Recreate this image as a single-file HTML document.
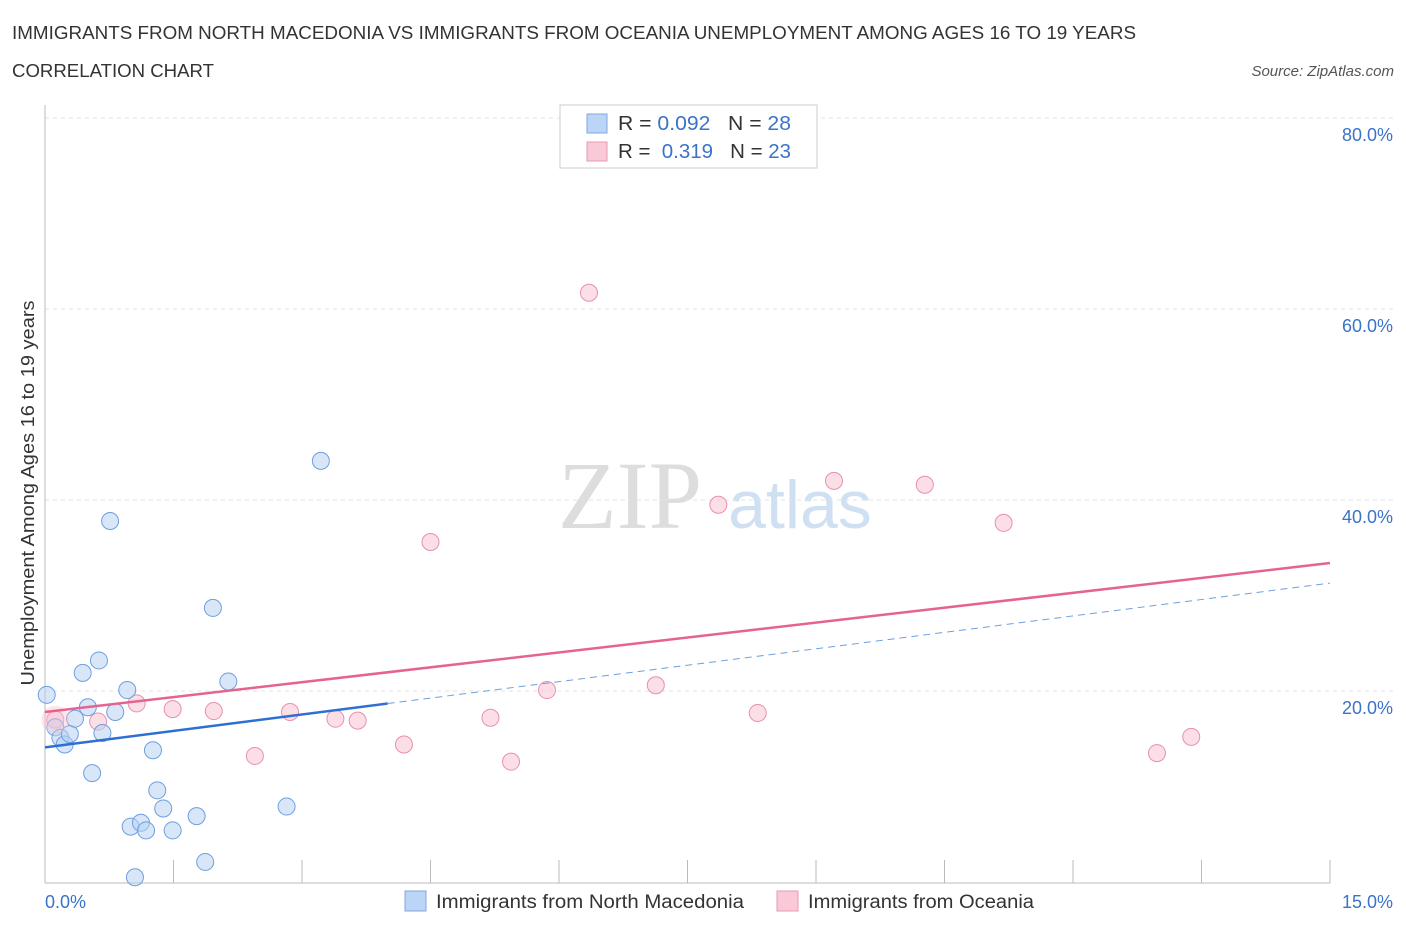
<!DOCTYPE html>
<html><head><meta charset="utf-8"><style>
body{margin:0;background:#fff;font-family:"Liberation Sans",sans-serif;}
#c{position:relative;width:1406px;height:930px;overflow:hidden}
</style></head><body>
<div id="c">
<svg id="s" width="1406" height="930" xmlns="http://www.w3.org/2000/svg">
<text x="12" y="39" font-size="18" fill="#333" textLength="1124" lengthAdjust="spacingAndGlyphs">IMMIGRANTS FROM NORTH MACEDONIA VS IMMIGRANTS FROM OCEANIA UNEMPLOYMENT AMONG AGES 16 TO 19 YEARS</text>
<text x="12" y="77" font-size="18" fill="#333" textLength="202" lengthAdjust="spacingAndGlyphs">CORRELATION CHART</text>
<text x="1394" y="76" font-size="15" fill="#555" font-style="italic" text-anchor="end">Source: ZipAtlas.com</text>
<text x="630" y="528" font-size="96" fill="#ddd" font-family="Liberation Serif,serif" text-anchor="middle">ZIP</text>
<text x="800" y="528" font-size="68" fill="#cfe0f3" text-anchor="middle">atlas</text>
<text transform="translate(34,493) rotate(-90)" font-size="18" fill="#333" text-anchor="middle" textLength="385" lengthAdjust="spacingAndGlyphs">Unemployment Among Ages 16 to 19 years</text>
<g id="grid"></g><g id="marks"></g>
<text x="45" y="908" font-size="18" fill="#3a73c9">0.0%</text>
<text x="1393" y="908" font-size="18" fill="#3a73c9" text-anchor="end">15.0%</text>
<rect x="560" y="105" width="257" height="63" fill="#fff" stroke="#ccc"/>
<rect x="587" y="114" width="20" height="19" fill="#bcd4f5" stroke="#7fa8e0"/>
<rect x="587" y="142" width="20" height="19" fill="#f9c9d7" stroke="#e89ab3"/>
<text x="618" y="130" font-size="20" fill="#333" textLength="173" lengthAdjust="spacingAndGlyphs">R = <tspan fill="#3a73c9">0.092</tspan>&#160;&#160;&#160;N = <tspan fill="#3a73c9">28</tspan></text>
<text x="618" y="158" font-size="20" fill="#333" textLength="173" lengthAdjust="spacingAndGlyphs">R = &#160;<tspan fill="#3a73c9">0.319</tspan>&#160;&#160;&#160;N = <tspan fill="#3a73c9">23</tspan></text>
<rect x="405" y="891" width="21" height="20" fill="#bcd4f5" stroke="#7fa8e0"/>
<text x="436" y="908" font-size="19" fill="#333" textLength="308" lengthAdjust="spacingAndGlyphs">Immigrants from North Macedonia</text>
<rect x="777" y="891" width="21" height="20" fill="#f9c9d7" stroke="#e89ab3"/>
<text x="808" y="908" font-size="19" fill="#333" textLength="226" lengthAdjust="spacingAndGlyphs">Immigrants from Oceania</text>
</svg></div>
<script>
const yTicks=[20,40,60,80];
const xTicks=[0,1.5,3,4.5,6,7.5,9,10.5,12,13.5,15];
const blueX=[0.02,0.12,0.18,0.23,0.29,0.35,0.44,0.50,0.55,0.63,0.67,0.76,0.82,0.96,1.00,1.05,1.12,1.18,1.26,1.31,1.38,1.49,1.77,1.87,1.96,2.14,2.82,3.22];
const blueY=[19.6,16.2,15.1,14.4,15.5,17.1,21.9,18.3,11.4,23.2,15.6,37.8,17.8,20.1,5.8,0.5,6.2,5.4,13.8,9.6,7.7,5.4,6.9,2.1,28.7,21.0,7.9,44.1];
const pinkX=[0.12,0.62,1.07,1.49,1.97,2.45,2.86,3.39,3.65,4.19,4.50,5.20,5.44,5.86,6.35,7.13,7.86,8.32,9.21,10.27,11.19,12.98,13.38];
const pinkY=[17.0,16.8,18.7,18.1,17.9,13.2,17.8,17.1,16.9,14.4,35.6,17.2,12.6,20.1,61.7,20.6,39.5,17.7,42.0,41.6,37.6,13.5,15.2];
const blueTrend=[14.1,31.3];
const pinkTrend=[17.8,33.4];
const X=v=>45+v*1285/15, Y=v=>882-v*191/20;
const NS="http://www.w3.org/2000/svg";
function mk(p,t,a){const e=document.createElementNS(NS,t);for(const k in a)e.setAttribute(k,a[k]);p.appendChild(e);return e;}
const g=document.getElementById('grid'), m=document.getElementById('marks');
for(const t of yTicks){
 const l=mk(g,'line',{x1:45,x2:1395,y1:Y(t),y2:Y(t),stroke:'#e3e3e3','stroke-dasharray':'4,4'});
 
 
 const tx=mk(g,'text',{x:1393,y:Y(t)+23,'font-size':18,fill:'#3a73c9','text-anchor':'end'});tx.textContent=t.toFixed(1)+'%';
 
 
}
const ax=mk(g,'line',{x1:45,x2:45,y1:105,y2:883,stroke:'#bbb'});


const bx=mk(g,'line',{x1:45,x2:1330,y1:883,y2:883,stroke:'#bbb'});


for(const t of xTicks){
 const l=mk(g,'line',{x1:X(t),x2:X(t),y1:860,y2:883,stroke:'#bbb'});
 
 
}
function dots(xs,ys,f,s,n){xs.forEach((x,i)=>{const c=mk(m,'circle',{cx:X(x),cy:Y(ys[i]),r:8.5,fill:f,'fill-opacity':0.55,stroke:s,'stroke-width':1});
 
 });}
dots(pinkX,pinkY,'#f9c3d3','#e890ad','pink-point');
dots(blueX,blueY,'#b8d1f3','#6e9fdf','blue-point');
const big=mk(m,'circle',{cx:X(pinkX[0]),cy:Y(pinkY[0]),r:14,fill:'#f9c3d3','fill-opacity':0.4,stroke:'none'});


const bl=t=>blueTrend[0]+(blueTrend[1]-blueTrend[0])*t/15;
const b1=mk(m,'line',{x1:X(0),y1:Y(bl(0)),x2:X(4),y2:Y(bl(4)),stroke:'#2f6fd3','stroke-width':2.5});


const b2=mk(m,'line',{x1:X(4),y1:Y(bl(4)),x2:X(15),y2:Y(bl(15)),stroke:'#6e9fdf','stroke-width':1,'stroke-dasharray':'7,5'});


const p1=mk(m,'line',{x1:X(0),y1:Y(pinkTrend[0]),x2:X(15),y2:Y(pinkTrend[1]),stroke:'#e5648f','stroke-width':2.5});


</script>
</body></html>
